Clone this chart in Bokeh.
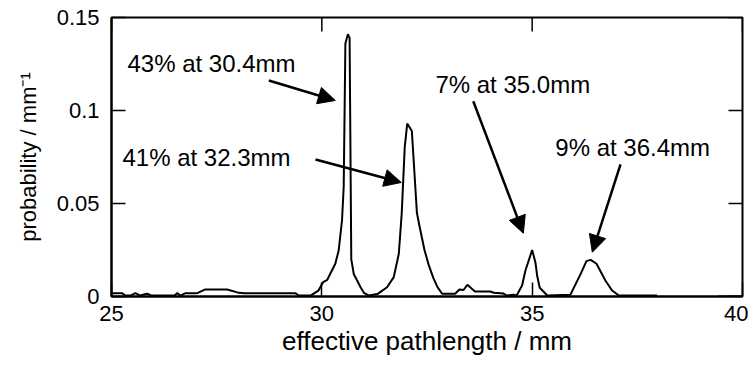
import math
from bokeh.plotting import figure
from bokeh.models import FixedTicker, Arrow, NormalHead, Label, ColumnDataSource
from bokeh.embed import file_html
from bokeh.resources import INLINE

# ---- data ----
pathlength_mm = [25.0, 25.25, 25.33, 25.45, 25.57, 25.68, 25.85, 25.95, 26.5, 26.56, 26.64, 26.76,
                 27.04, 27.23, 27.75, 27.99, 28.15, 29.37, 29.45, 29.73, 29.92, 30.03, 30.13, 30.2,
                 30.32, 30.4, 30.48, 30.52, 30.56, 30.62, 30.66, 30.7, 30.76, 30.84, 30.92, 31.0,
                 31.12, 31.32, 31.55, 31.71, 31.83, 31.9, 31.97, 32.03, 32.14, 32.26, 32.32, 32.44,
                 32.54, 32.65, 32.75, 32.86, 33.17, 33.27, 33.37, 33.46, 33.64, 34.0, 34.09, 34.32,
                 34.4, 34.55, 34.63, 34.76, 34.84, 35.0, 35.08, 35.12, 35.18, 35.36, 35.91, 36.15,
                 36.29, 36.39, 36.53, 36.74, 36.9, 37.06, 37.97, float("nan"), 39.43, 40.0]
probability = [0.0018, 0.0018, 0.0005, 0.0005, 0.0018, 0.0005, 0.0015, 0.0005, 0.0005, 0.0018, 0.0005, 0.0018,
               0.0018, 0.0038, 0.0038, 0.0022, 0.0018, 0.0018, 0.0005, 0.0005, 0.0032, 0.0077, 0.009, 0.0122,
               0.0176, 0.0247, 0.041, 0.059, 0.136, 0.141, 0.139, 0.020, 0.012, 0.0086, 0.005, 0.002,
               0.0005, 0.0013, 0.005, 0.0104, 0.023, 0.045, 0.080, 0.093, 0.089, 0.045, 0.038, 0.025,
               0.017, 0.010, 0.005, 0.0015, 0.0015, 0.0038, 0.0035, 0.0063, 0.0027, 0.0027, 0.002, 0.0016,
               0.0005, 0.001, 0.0005, 0.0059, 0.014, 0.025, 0.018, 0.011, 0.0047, 0.0005, 0.001, 0.012,
               0.019, 0.0197, 0.0176, 0.0086, 0.0032, 0.0005, 0.0005, float("nan"), 0.0, 0.0]

x_ticks = [25, 30, 35, 40]
y_ticks = [0, 0.05, 0.1, 0.15]
y_tick_labels = {0: "0", 0.05: "0.05", 0.1: "0.1", 0.15: "0.15"}

annotation_texts = ["43% at 30.4mm", "41% at 32.3mm", "7% at 35.0mm", "9% at 36.4mm"]
annotation_x = [25.38, 25.26, 32.70, 35.55]
annotation_y = [0.1253, 0.0749, 0.114, 0.080]
arrow_x_start = [28.74, 29.85, 33.60, 37.10]
arrow_y_start = [0.1161, 0.0737, 0.1050, 0.0710]
arrow_x_end = [30.32, 31.89, 34.79, 36.43]
arrow_y_end = [0.1054, 0.0613, 0.0340, 0.0238]

FONT = "Liberation Sans"
TICK_LEN = 14

p = figure(width=748, height=365, x_range=(x_ticks[0], x_ticks[-1]), y_range=(y_ticks[0], y_ticks[-1]),
           output_backend="svg", toolbar_location=None,
           min_border_left=111, min_border_right=6, min_border_top=17, min_border_bottom=69,
           x_axis_label="effective pathlength / mm", y_axis_label="probability / mm\u207b\u00b9")
p.grid.visible = False
p.outline_line_color = "black"
p.outline_line_width = 2
p.background_fill_color = "white"
p.border_fill_color = "white"

src = ColumnDataSource(dict(x=pathlength_mm, y=probability))
p.line("x", "y", source=src, line_color="black", line_width=2)

xa = p.xaxis[0]
xa.ticker = FixedTicker(ticks=x_ticks)
ya = p.yaxis[0]
ya.ticker = FixedTicker(ticks=y_ticks)
for ax in (xa, ya):
    ax.major_tick_in = TICK_LEN
    ax.major_tick_out = 0
    ax.minor_tick_line_color = None
    ax.major_tick_line_width = 1.5
    ax.axis_line_width = 2
    ax.major_label_text_font = FONT
    ax.major_label_text_font_size = "22px"
    ax.major_label_text_color = "black"
    ax.axis_label_text_font = FONT
    ax.axis_label_text_font_style = "normal"
    ax.axis_label_text_color = "black"
xa.major_label_standoff = 9
xa.axis_label_standoff = 2
xa.axis_label_text_font_size = "26px"
ya.major_label_standoff = 12
ya.axis_label_standoff = 13
ya.axis_label_text_font_size = "22px"
ya.major_label_overrides = y_tick_labels

# mirrored inward ticks on the top and right sides of the box
p.ray(x=x_ticks, y=[y_ticks[-1]] * len(x_ticks), length=TICK_LEN, length_units="screen",
      angle=-math.pi / 2, line_color="black", line_width=1.5)
p.ray(x=[x_ticks[-1]] * len(y_ticks), y=y_ticks, length=TICK_LEN, length_units="screen",
      angle=math.pi, line_color="black", line_width=1.5)

for t, lx, ly in zip(annotation_texts, annotation_x, annotation_y):
    p.add_layout(Label(x=lx, y=ly, text=t, text_font=FONT, text_font_size="24px",
                       text_color="black", text_align="left", text_baseline="middle"))

for xs, ys, xe, ye in zip(arrow_x_start, arrow_y_start, arrow_x_end, arrow_y_end):
    p.add_layout(Arrow(end=NormalHead(size=17, fill_color="black", line_color="black", line_width=1),
                       x_start=xs, y_start=ys, x_end=xe, y_end=ye,
                       line_color="black", line_width=2.5))

open("out.html", "w").write(file_html(p, INLINE))
